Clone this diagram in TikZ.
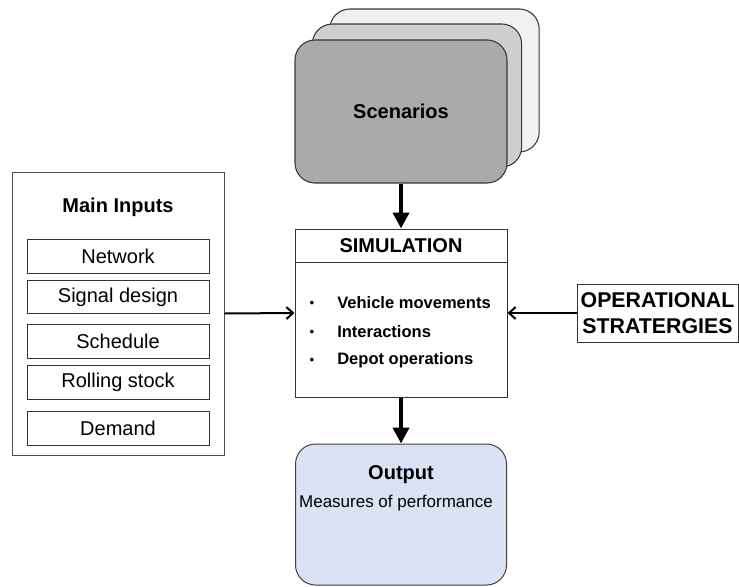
\documentclass[tikz,border=0pt]{standalone}
\usepackage{fontspec}
\setmainfont{Liberation Sans}
\usepackage{tikz}
\usetikzlibrary{positioning, arrows.meta}
\definecolor{scenfront}{RGB}{172,169,169}
\definecolor{scenmid}{RGB}{207,207,207}
\definecolor{scenback}{RGB}{241,241,241}
\definecolor{outblue}{RGB}{218,227,243}
\definecolor{edgegray}{RGB}{55,55,55}

\begin{document}
\begin{tikzpicture}[x=0.75pt, y=-0.75pt,
  card/.style={rectangle, rounded corners=15pt, draw=edgegray, line width=0.8pt,
               minimum width=157pt, minimum height=107.25pt,
               font=\fontsize{15}{18}\selectfont\bfseries},
  inbox/.style={rectangle, draw=black!70, line width=0.75pt,
                minimum width=159pt, minimum height=212.25pt},
  itembox/.style={rectangle, draw=black!80, line width=0.75pt,
                  minimum width=136.5pt, minimum height=25pt,
                  inner sep=0pt, font=\fontsize{15}{18}\selectfont},
  hdrtxt/.style={font=\fontsize{15}{18}\selectfont\bfseries, inner sep=0pt},
  simbox/.style={rectangle, draw=black!80, line width=0.75pt,
                 minimum width=159pt, minimum height=126pt},
  simhdr/.style={rectangle, minimum width=159pt, minimum height=25.5pt,
                 outer sep=0pt, font=\fontsize{15}{18}\selectfont\bfseries},
  bul/.style={font=\fontsize{10}{12}\selectfont, inner sep=0pt},
  bultxt/.style={anchor=west, inner sep=0pt,
                 font=\fontsize{12.4}{15}\selectfont\bfseries},
  opbox/.style={rectangle, draw=black!80, line width=0.75pt,
                minimum width=120.75pt, minimum height=43.5pt, inner sep=1pt,
                align=center, font=\fontsize{16}{19.5}\selectfont\bfseries},
  outbox/.style={rectangle, rounded corners=15pt, draw=black!75, line width=0.75pt,
                 fill=outblue, minimum width=158.25pt, minimum height=105.75pt},
  bigarr/.style={-{Triangle[length=12pt, width=12pt]}, line width=3.2pt},
  thinarr/.style={-{Straight Barb[length=5pt, width=9pt]}, line width=1.5pt}
]
\useasboundingbox (0,0) rectangle (739,586);

% === Scenarios stack =========================================================
\node[card, fill=scenback]  (SB) at (434.5, 80.5)  {};
\node[card, fill=scenmid]   (SM) at (417,   95.5)  {};
\node[card, fill=scenfront, minimum width=159pt] (SF) at (401, 111.5) {Scenarios};

% === Main inputs =============================================================
\node[inbox]                       (MI)  at (118, 313.5) {};
\node[hdrtxt]                      (MIT) at (118, 207)   {Main Inputs};
\node[itembox]                     (I1)  at (118, 256.5) {Network};
\node[itembox, below=4.6pt of I1]  (I2)  {Signal design};
\node[itembox, below=7.6pt of I2]  (I3)  {Schedule};
\node[itembox, below=5pt of I3]    (I4)  {Rolling stock};
\node[itembox, below=8.8pt of I4]  (I5)  {Demand};

% === Simulation ==============================================================
\node[simbox]                      (SIM) at (401, 313) {};
\node[simhdr, below=0pt of SIM.north] (SH) {SIMULATION};
\draw[black!80, line width=0.75pt] (SH.south west) -- (SH.south east);
\node[bul]    (B1) at (312, 304) {\textbullet};
\node[bul]    (B2) at (312, 333) {\textbullet};
\node[bul]    (B3) at (312, 361) {\textbullet};
\node[bultxt] (T1) at (337, 303) {Vehicle movements};
\node[bultxt] (T2) at (337, 332) {Interactions};
\node[bultxt] (T3) at (337, 360) {Depot operations};

% === Operational strategies ==================================================
\node[opbox] (OP) at (657.5, 313) {OPERATIONAL\\STRATERGIES};

% === Output ==================================================================
\node[outbox] (OUT) at (401, 514.5) {};
\node[hdrtxt] (OT)  at (401, 475)   {Output};
\node[inner sep=0pt, font=\fontsize{12.75}{15}\selectfont] (OM) at (396, 503)
      {Measures of performance};

% === Connectors ==============================================================
\draw[bigarr]  (SF.south)  -- (SIM.north);
\draw[bigarr]  (SIM.south) -- (OUT.north);
\draw[thinarr] (MI.east)   -- (SIM.west);
\draw[thinarr] (OP.west)   -- (SIM.east);

\end{tikzpicture}
\end{document}
